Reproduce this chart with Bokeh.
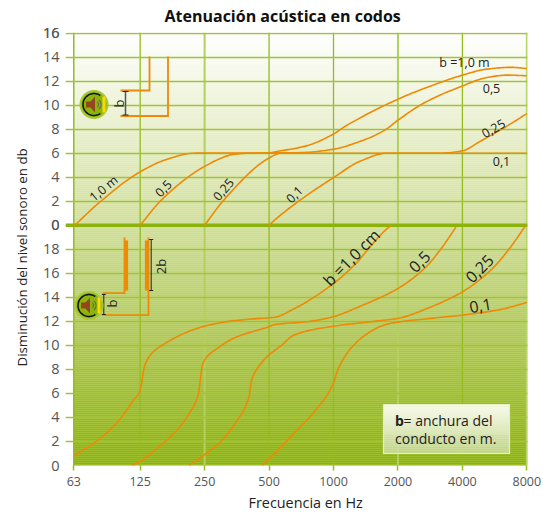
import numpy as np
from bokeh.plotting import figure
from bokeh.models import FixedTicker, Label, Title
from bokeh.embed import file_html
from bokeh.resources import INLINE

title = "Atenuación acústica en codos"
ylabel = "Disminución del nivel  sonoro en db"
xlabel = "Frecuencia en Hz"
freq_pos = [-0.03, 1, 2, 3, 4, 5, 6, 7]
freq_lab = ["63", "125", "250", "500", "1000", "2000", "4000", "8000"]
y_pos = list(range(-18, 18, 2)) + [-20]
y_lab = ["2","4","6","8","10","12","14","16","18","0","2","4","6","8","10","12","14","16","0"]

# upper panel curves: octave position above 63 Hz, attenuation dB
u10_x = [-0.015,0.388,1,1.42,1.83,2.4,3,3.08,3.59,4,4.17,5,5.51,6,6.38,6.75,7]
u10_y = [0,2,4.45,5.5,6,6.02,6.02,6.1,6.63,7.6,8.2,10.5,11.6,12.5,13,13.15,13.05]
u05_x = [1,1.32,2,2.45,2.66,3.5,4,4.37,4.79,5,5.41,6,6.38,6.69,7]
u05_y = [0,2.05,4.9,5.9,6,6.05,6.33,6.9,7.9,8.75,10.2,11.6,12.3,12.5,12.45]
u025_x = [2,2.29,3,3.18,5.66,6,6.28,6.69,7]
u025_y = [0,2.05,5.6,6,6,6.2,7,8.25,9.3]
u01_x = [3,3.08,3.47,4,4.42,4.83,7]
u01_y = [0,0.4,2.05,3.97,5.35,6,6]

# lower panel curves
l10_x = [-0.035,0.39,0.70,0.90,0.98,1.03,1.06,1.11,1.21,1.37,1.68,2,2.45,3,3.08,3.35,4,4.37,4.63,4.86,4.9]
l10_y = [0.77,2.3,3.95,5.47,6.0,7.1,8.1,8.8,9.5,10.1,11,11.6,12.05,12.3,12.33,12.94,15.15,16.95,18.6,19.85,20]
l05_x = [0.87,1,1.27,1.58,1.78,1.9,1.94,1.96,2.04,2.2,2.45,3,3.08,3.59,4,4.37,5,5.41,5.67,5.90]
l05_y = [0,0.36,1.47,3,4.5,5.9,7.4,8.24,9.07,9.76,10.6,11.56,11.72,11.97,12.39,13.16,14.74,16.4,18.05,19.85]
l025_x = [1.76,2,2.25,2.51,2.69,2.72,2.76,2.84,2.97,3.18,3.39,4,4.63,5,5.51,6,6.44,6.75,6.97]
l025_y = [0,0.9,2,3.8,5.75,6.86,7.55,8.24,9.07,9.95,10.87,11.6,12,12.25,13.2,14.46,16.26,18.2,19.9]
l01_x = [2.89,3.08,3.39,3.75,4,4.04,4.09,4.27,4.53,4.79,5,5.51,6,6.6,7]
l01_y = [0,0.97,2.7,4.78,6.86,7.55,8.24,9.76,11,11.7,11.94,12.25,12.52,13,13.57]

ORANGE = "#ee8a05"
GRID = "#a2c236"
INK = "#222222"
FONT = "Open Sans"

sx = 455 / 7.06
sy = 433 / 36.05
x_start = -0.05 - 7 / sx

p = figure(width=550, height=516, output_backend="svg", toolbar_location=None,
           x_range=(x_start, 7.01), y_range=(-20, 16.05),
           frame_width=462, frame_height=433,
           min_border_left=65, min_border_right=23, min_border_top=32, min_border_bottom=51)
p.outline_line_color = None
p.background_fill_color = None
p.border_fill_color = "white"
p.xgrid.visible = False
p.ygrid.ticker = FixedTicker(ticks=y_pos + [0, 16])
p.ygrid.grid_line_color = GRID
p.ygrid.grid_line_width = 1.5
p.ygrid.level = "underlay"

# helpers: page pixel -> data, used for annotations only
def X(px): return x_start + (np.asarray(px, float) - 65) / sx
def Y(py): return 16.05 - (np.asarray(py, float) - 32) / sy

def smooth(xs, ys, n=12):
    """Shape-preserving curve drawn through the read points."""
    xs, ys = np.asarray(xs, float), np.asarray(ys, float)
    h = np.diff(xs); d = np.diff(ys) / h
    m = np.zeros_like(xs)
    m[0], m[-1] = d[0], d[-1]
    for i in range(1, len(xs) - 1):
        if d[i-1] * d[i] > 0:
            w1, w2 = 2*h[i] + h[i-1], h[i] + 2*h[i-1]
            m[i] = (w1 + w2) / (w1/d[i-1] + w2/d[i])
    ox, oy = [], []
    for i in range(len(h)):
        t = np.linspace(0, 1, n, endpoint=False)
        ox.append(xs[i] + t*h[i])
        oy.append((2*t**3-3*t**2+1)*ys[i] + (t**3-2*t**2+t)*h[i]*m[i]
                  + (-2*t**3+3*t**2)*ys[i+1] + (t**3-t**2)*h[i]*m[i+1])
    return np.append(np.concatenate(ox), xs[-1]), np.append(np.concatenate(oy), ys[-1])

# gradient background
stops_py = [32, 128, 224, 345, 440, 466]
stops_rgb = np.array([[255,255,255],[233,240,204],[209,224,154],[174,200,79],[146,183,20],[140,179,10]], float)
edges = np.linspace(32, 466, 218)
mids = (edges[:-1] + edges[1:]) / 2
rgb = np.column_stack([np.interp(mids, stops_py, stops_rgb[:, i]) for i in range(3)]).astype(int)
cols = ["#%02x%02x%02x" % tuple(c) for c in rgb]
p.quad(left=X(72.5), right=7.01, top=Y(edges[:-1] - 0.3), bottom=Y(edges[1:]), color=cols, line_color=None, level="image")

# vertical lines
v_col = ["#96bb1e", "#96bb1e", "#b4cf5e", "#96bb1e", "#96bb1e", "#b4cf5e", "#96bb1e", "#b9d468"]
v_w = [1.5, 1.3, 2, 1.3, 1.3, 2, 1.3, 2]
p.segment(x0=freq_pos, x1=freq_pos, y0=[-20]*8, y1=[16.05]*8, line_color=v_col, line_width=v_w, level="underlay")

# axes
ax = p.xaxis[0]
ax.ticker = FixedTicker(ticks=freq_pos)
ax.major_label_overrides = {k: v for k, v in zip(freq_pos, freq_lab)}
ax.axis_line_color = None
ax.minor_tick_line_color = None
ax.major_tick_line_color = "#96bb1e"
ax.major_tick_line_width = 1.5
ax.major_tick_in = 0
ax.major_tick_out = 5
ax.major_label_standoff = 6
ax.major_label_text_font = FONT
ax.major_label_text_font_style = "normal"
ax.major_label_text_font_size = "12.5px"
ax.major_label_text_color = "#555555"

ay = p.yaxis[0]
ay.ticker = FixedTicker(ticks=y_pos + [0, 16])
ay.major_label_overrides = {k: v for k, v in zip(y_pos, y_lab)}
ay.major_label_overrides[-20] = "0"
ay.axis_line_color = None
ay.minor_tick_line_color = None
ay.major_tick_line_color = None
ay.major_tick_in = 0
ay.major_tick_out = 0
ay.major_label_standoff = 6
ay.major_label_text_font = FONT
ay.major_label_text_font_style = "normal"
ay.major_label_text_font_size = "14.5px"
ay.major_label_text_color = "#555555"

# thick zero line
p.line([x_start, 7.01], [0, 0], line_color="#8cb30a", line_width=3.5)

# curves
for xs, ys in [(u10_x,u10_y),(u05_x,u05_y),(u025_x,u025_y),(u01_x,u01_y)]:
    a, b = smooth(xs, ys)
    p.line(a, b, line_color=ORANGE, line_width=1.6, line_join="round")
for xs, ys in [(l10_x,l10_y),(l05_x,l05_y),(l025_x,l025_y),(l01_x,l01_y)]:
    a, b = smooth(xs, ys)
    p.line(a, b - 20, line_color=ORANGE, line_width=1.6, line_join="round")

def T(txt, px, py, size, angle=0, bold=False, color=INK, align="center"):
    p.add_layout(Label(x=float(X(px)), y=float(Y(py)), text=txt, text_font=FONT,
                       text_font_size=f"{size}px", text_color=color, angle=angle, angle_units="deg",
                       text_align=align, text_baseline="middle",
                       text_font_style="bold" if bold else "normal"))

p.title = Title(text=title, align="left", offset=99, text_font=FONT, text_font_size="16px",
                text_font_style="bold", text_color="#111111", standoff=8, vertical_align="top")
p.add_layout(Title(text=xlabel, align="left", offset=183, text_font=FONT, text_font_size="14.4px",
                   text_font_style="normal", text_color=INK, standoff=5), "below")
p.add_layout(Title(text=ylabel, align="left", offset=99, text_font=FONT, text_font_size="13.3px",
                   text_font_style="normal", text_color=INK, standoff=17), "left")

# curve labels
T("1,0 m", 103, 188, 12.5, 40)
T("0,5", 163, 188, 12.5, 45)
T("0,25", 223, 189, 12.5, 50)
T("0,1", 294, 194, 12.5, 45)
T("b =1,0 m", 464, 62, 12.5)
T("0,5", 491, 88, 12.5)
T("0,25", 493, 128, 12.5, 30)
T("0,1", 501, 161, 12.5)
T("b =1,0 cm", 351, 257, 16, 45)
T("0,5", 419, 261, 16, 45)
T("0,25", 479, 268, 16, 45)
T("0,1", 480, 305, 16, 10)

# duct sketches
def L(pxs, pys, w=1.8, c=ORANGE, cap="butt"):
    p.line(X(pxs), Y(pys), line_color=c, line_width=w, line_join="miter", line_cap=cap)

L([120,149,149],[90,90,56])
L([120,167.5,167.5],[115.5,115.5,56])
L([125,125],[91,114.5],1.5,"#555555")
L([122,128],[91,91],1.2,"#222222"); L([122,128],[114.5,114.5],1.2,"#222222")
T("b", 118, 103, 13, 90)

L([102,124,124],[292.7,292.7,237])
L([102,148,148],[314.7,314.7,237])
L([125.8,125.8],[240,290],3.6)
L([146.3,146.3],[240,290],3.8)
L([150.7,150.7],[239,290],1,"#222222")
L([148.7,152.7],[239,239],1,"#222222"); L([148.7,152.7],[290,290],1,"#222222")
L([103.3,103.3],[294,314],1,"#222222")
L([101.3,105.3],[294,294],1,"#222222"); L([101.3,105.3],[314,314],1,"#222222")
T("2b", 160, 266, 13, 90)
T("b", 111, 303, 13, 90)

def icon(cx, cy):
    th = np.linspace(0, 2*np.pi, 49)
    p.patch(X(cx + 14.5*np.cos(th)), Y(cy + 14.5*np.sin(th)), fill_color="#a8c73a", line_color=None)
    p.patch(X(cx + 12.5*np.cos(th)), Y(cy + 12.5*np.sin(th)), fill_color="#8db40a", line_color=None)
    a = np.radians(np.linspace(55, 305, 40))
    p.line(X(cx + 11*np.cos(a)), Y(cy + 11*np.sin(a)), line_color="#111111", line_width=1.5)
    p.patch(X([cx-8, cx-3.5, cx+1, cx+1, cx-3.5, cx-8]), Y([cy-3, cy-3, cy-8, cy+8, cy+3, cy+3]),
            fill_color="#94471c", line_color=None)
    for r_ in (3.5, 6):
        a2 = np.radians(np.linspace(-50, 50, 12))
        p.line(X(cx + 1 + r_*np.cos(a2)), Y(cy + r_*np.sin(a2)), line_color="#5f6b58", line_width=1.1)
    p.patch(X([cx+8.5, cx+11.5, cx+11.5, cx+8.5]), Y([cy-8, cy-8, cy+8, cy+8]), fill_color="#ffd800", line_color=None)

icon(93.5, 104)
icon(88.5, 305)

# note box
box_e = np.linspace(404, 453, 26)
box_t = (box_e[:-1] - 404) / 49
box_c = ["#%02x%02x%02x" % (int(248-50*v), int(250-32*v), int(236-92*v)) for v in box_t]
p.quad(left=X(383), right=X(509), top=Y(box_e[:-1] - 0.3), bottom=Y(box_e[1:]), color=box_c, line_color=None)
L([383,509,509,383,383],[404,404,453,453,404],1.2,"#e4edc4")
T("b", 394.5, 420, 14, bold=True, align="left")
T("= anchura del", 403, 420, 14, align="left")
T("conducto en m.", 394.5, 438, 14, align="left")

open("out.html", "w").write(file_html(p, INLINE))
